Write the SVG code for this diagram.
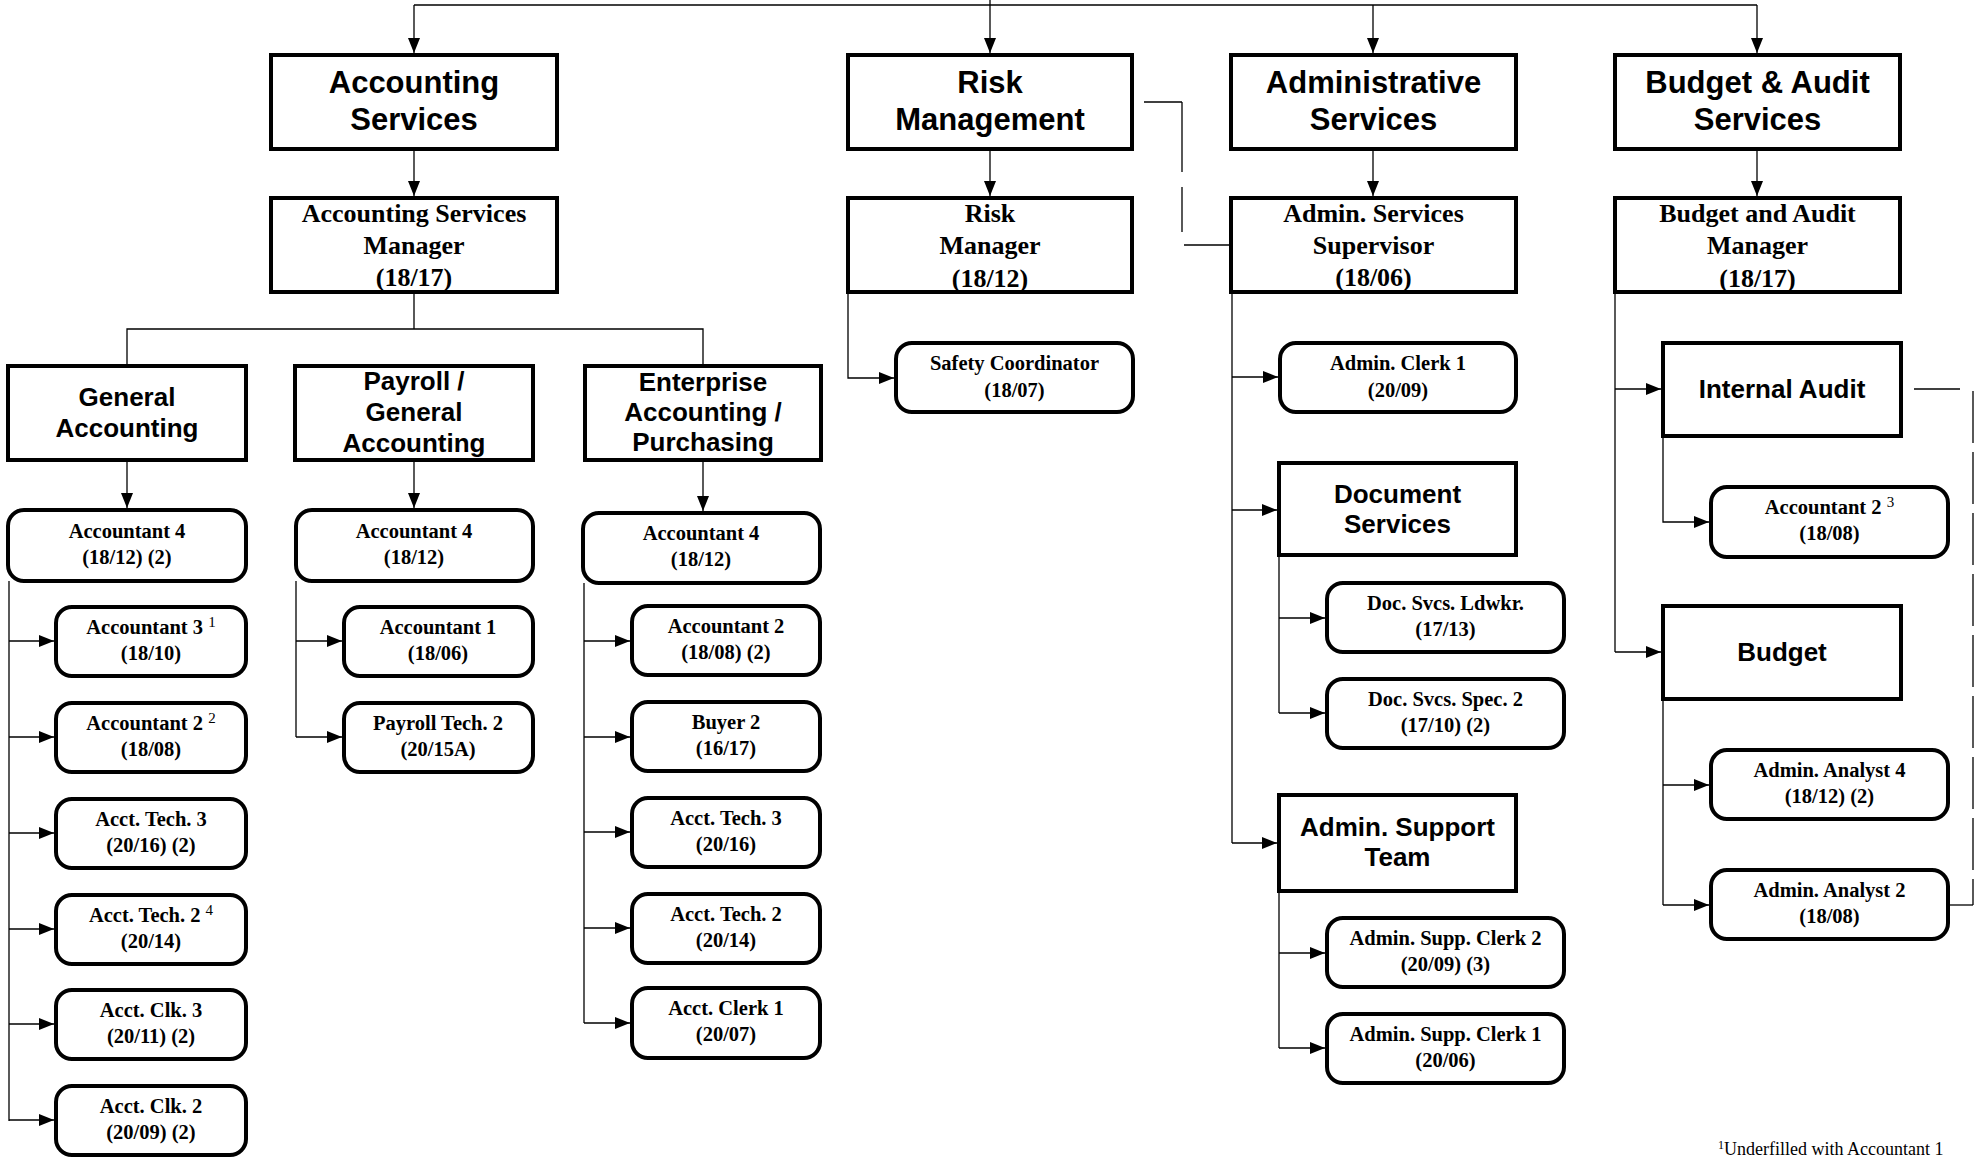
<svg xmlns="http://www.w3.org/2000/svg" width="1979" height="1160" viewBox="0 0 1979 1160">
<style>
.box{fill:#fff;stroke:#000;stroke-width:4}
.conn{fill:none;stroke:#000;stroke-width:1.3}
.arr{marker-end:url(#ah)}
.h1{font-family:"Liberation Sans",Arial,sans-serif;font-weight:bold;font-size:31px;text-anchor:middle;fill:#000}
.h2{font-family:"Liberation Sans",Arial,sans-serif;font-weight:bold;font-size:26px;text-anchor:middle;fill:#000}
.mgr{font-family:"Liberation Serif","Times New Roman",serif;font-weight:bold;font-size:26px;text-anchor:middle;fill:#000}
.pos{font-family:"Liberation Serif","Times New Roman",serif;font-weight:bold;font-size:20.5px;text-anchor:middle;fill:#000}
.sup{font-weight:normal;font-size:15px}
.note{font-family:"Liberation Serif","Times New Roman",serif;font-size:18px;fill:#000}
</style>
<defs>
<marker id="ah" markerWidth="15" markerHeight="12" refX="15" refY="6" orient="auto" markerUnits="userSpaceOnUse"><path d="M0,0 L15,6 L0,12 z" fill="#000"/></marker>
</defs>
<rect width="1979" height="1160" fill="#fff"/>

<g id="connectors">
<path class="conn" d="M414,5 H1757"/>
<path class="conn arr" d="M414,5 V53"/>
<path class="conn arr" d="M990,0 V53"/>
<path class="conn arr" d="M1373,5 V53"/>
<path class="conn arr" d="M1757,5 V53"/>
<path class="conn arr" d="M414,149 V196"/>
<path class="conn arr" d="M990,149 V196"/>
<path class="conn arr" d="M1373,149 V196"/>
<path class="conn arr" d="M1757,149 V196"/>
<path class="conn" d="M414,292 V329 M127,364 V329 H703 V364"/>
<path class="conn arr" d="M127,460 V508"/>
<path class="conn arr" d="M414,460 V508"/>
<path class="conn arr" d="M703,460 V511"/>
<path class="conn" d="M9,581 V1121"/>
<path class="conn arr" d="M9,641 H54"/>
<path class="conn arr" d="M9,737 H54"/>
<path class="conn arr" d="M9,833 H54"/>
<path class="conn arr" d="M9,929 H54"/>
<path class="conn arr" d="M9,1024 H54"/>
<path class="conn arr" d="M9,1120 H54"/>
<path class="conn" d="M296,581 V737"/>
<path class="conn arr" d="M296,641 H342"/>
<path class="conn arr" d="M296,737 H342"/>
<path class="conn" d="M584,583 V1023"/>
<path class="conn arr" d="M584,641 H630"/>
<path class="conn arr" d="M584,737 H630"/>
<path class="conn arr" d="M584,832 H630"/>
<path class="conn arr" d="M584,928 H630"/>
<path class="conn arr" d="M584,1023 H630"/>
<path class="conn arr" d="M848,292 V378 H894"/>
<path class="conn" d="M1232,292 V843"/>
<path class="conn arr" d="M1232,377 H1278"/>
<path class="conn arr" d="M1232,510 H1277"/>
<path class="conn arr" d="M1232,843 H1277"/>
<path class="conn" d="M1279,555 V713"/>
<path class="conn arr" d="M1279,618 H1325"/>
<path class="conn arr" d="M1279,713 H1325"/>
<path class="conn" d="M1279,891 V1048"/>
<path class="conn arr" d="M1279,953 H1325"/>
<path class="conn arr" d="M1279,1048 H1325"/>
<path class="conn" d="M1615,292 V652"/>
<path class="conn arr" d="M1615,389 H1661"/>
<path class="conn arr" d="M1615,652 H1661"/>
<path class="conn arr" d="M1663,436 V522 H1709"/>
<path class="conn" d="M1663,699 V905"/>
<path class="conn arr" d="M1663,785 H1709"/>
<path class="conn arr" d="M1663,905 H1709"/>
<path class="conn" d="M1144,102 H1182"/>
<path class="conn" d="M1182,102 V232" stroke-dasharray="70,15"/>
<path class="conn" d="M1184,245 H1229"/>
<path class="conn" d="M1914,389 H1960"/>
<path class="conn" d="M1973,391 V905" stroke-dasharray="52,9"/>
<path class="conn" d="M1950,905 H1973"/>
</g>

<g id="accounting-services"><rect class="box" x="271" y="55" width="286" height="94"/><text class="h1" x="414" y="93">Accounting</text><text class="h1" x="414" y="130">Services</text></g>
<g id="risk-management"><rect class="box" x="848" y="55" width="284" height="94"/><text class="h1" x="990" y="93">Risk</text><text class="h1" x="990" y="130">Management</text></g>
<g id="administrative-services"><rect class="box" x="1231" y="55" width="285" height="94"/><text class="h1" x="1373.5" y="93">Administrative</text><text class="h1" x="1373.5" y="130">Services</text></g>
<g id="budget-audit-services"><rect class="box" x="1615" y="55" width="285" height="94"/><text class="h1" x="1757.5" y="93">Budget &amp; Audit</text><text class="h1" x="1757.5" y="130">Services</text></g>

<g id="accounting-services-manager"><rect class="box" x="271" y="198" width="286" height="94"/><text class="mgr" x="414" y="222">Accounting Services</text><text class="mgr" x="414" y="254">Manager</text><text class="mgr" x="414" y="286">(18/17)</text></g>
<g id="risk-manager"><rect class="box" x="848" y="198" width="284" height="94"/><text class="mgr" x="990" y="222">Risk</text><text class="mgr" x="990" y="254">Manager</text><text class="mgr" x="990" y="287">(18/12)</text></g>
<g id="admin-services-supervisor"><rect class="box" x="1231" y="198" width="285" height="94"/><text class="mgr" x="1373.5" y="222">Admin. Services</text><text class="mgr" x="1373.5" y="254">Supervisor</text><text class="mgr" x="1373.5" y="286">(18/06)</text></g>
<g id="budget-audit-manager"><rect class="box" x="1615" y="198" width="285" height="94"/><text class="mgr" x="1757.5" y="222">Budget and Audit</text><text class="mgr" x="1757.5" y="254">Manager</text><text class="mgr" x="1757.5" y="287">(18/17)</text></g>

<g id="general-accounting"><rect class="box" x="8" y="366" width="238" height="94"/><text class="h2" x="127" y="406">General</text><text class="h2" x="127" y="437">Accounting</text></g>
<g id="payroll-general-accounting"><rect class="box" x="295" y="366" width="238" height="94"/><text class="h2" x="414" y="390">Payroll /</text><text class="h2" x="414" y="421">General</text><text class="h2" x="414" y="452">Accounting</text></g>
<g id="enterprise-accounting-purchasing"><rect class="box" x="585" y="366" width="236" height="94"/><text class="h2" x="703" y="391">Enterprise</text><text class="h2" x="703" y="421">Accounting /</text><text class="h2" x="703" y="451">Purchasing</text></g>

<g id="ga-accountant-4"><rect class="box" x="8" y="510" width="238" height="71" rx="16"/><text class="pos" x="127" y="538">Accountant 4</text><text class="pos" x="127" y="564">(18/12) (2)</text></g>
<g id="ga-accountant-3"><rect class="box" x="56" y="607" width="190" height="69" rx="16"/><text class="pos" x="151" y="634">Accountant 3 <tspan class="sup" dy="-7">1</tspan></text><text class="pos" x="151" y="660">(18/10)</text></g>
<g id="ga-accountant-2"><rect class="box" x="56" y="703" width="190" height="69" rx="16"/><text class="pos" x="151" y="730">Accountant 2 <tspan class="sup" dy="-7">2</tspan></text><text class="pos" x="151" y="756">(18/08)</text></g>
<g id="ga-acct-tech-3"><rect class="box" x="56" y="799" width="190" height="69" rx="16"/><text class="pos" x="151" y="826">Acct. Tech. 3</text><text class="pos" x="151" y="852">(20/16) (2)</text></g>
<g id="ga-acct-tech-2"><rect class="box" x="56" y="895" width="190" height="69" rx="16"/><text class="pos" x="151" y="922">Acct. Tech. 2 <tspan class="sup" dy="-7">4</tspan></text><text class="pos" x="151" y="948">(20/14)</text></g>
<g id="ga-acct-clk-3"><rect class="box" x="56" y="990" width="190" height="69" rx="16"/><text class="pos" x="151" y="1017">Acct. Clk. 3</text><text class="pos" x="151" y="1043">(20/11) (2)</text></g>
<g id="ga-acct-clk-2"><rect class="box" x="56" y="1086" width="190" height="69" rx="16"/><text class="pos" x="151" y="1113">Acct. Clk. 2</text><text class="pos" x="151" y="1139">(20/09) (2)</text></g>

<g id="pay-accountant-4"><rect class="box" x="296" y="510" width="237" height="71" rx="16"/><text class="pos" x="414" y="538">Accountant 4</text><text class="pos" x="414" y="564">(18/12)</text></g>
<g id="pay-accountant-1"><rect class="box" x="344" y="607" width="189" height="69" rx="16"/><text class="pos" x="438" y="634">Accountant 1</text><text class="pos" x="438" y="660">(18/06)</text></g>
<g id="pay-payroll-tech-2"><rect class="box" x="344" y="703" width="189" height="69" rx="16"/><text class="pos" x="438" y="730">Payroll Tech. 2</text><text class="pos" x="438" y="756">(20/15A)</text></g>

<g id="ent-accountant-4"><rect class="box" x="583" y="513" width="237" height="70" rx="16"/><text class="pos" x="701" y="540">Accountant 4</text><text class="pos" x="701" y="566">(18/12)</text></g>
<g id="ent-accountant-2"><rect class="box" x="632" y="606" width="188" height="69" rx="16"/><text class="pos" x="726" y="633">Accountant 2</text><text class="pos" x="726" y="659">(18/08) (2)</text></g>
<g id="ent-buyer-2"><rect class="box" x="632" y="702" width="188" height="69" rx="16"/><text class="pos" x="726" y="729">Buyer 2</text><text class="pos" x="726" y="755">(16/17)</text></g>
<g id="ent-acct-tech-3"><rect class="box" x="632" y="798" width="188" height="69" rx="16"/><text class="pos" x="726" y="825">Acct. Tech. 3</text><text class="pos" x="726" y="851">(20/16)</text></g>
<g id="ent-acct-tech-2"><rect class="box" x="632" y="894" width="188" height="69" rx="16"/><text class="pos" x="726" y="921">Acct. Tech. 2</text><text class="pos" x="726" y="947">(20/14)</text></g>
<g id="ent-acct-clerk-1"><rect class="box" x="632" y="988" width="188" height="70" rx="16"/><text class="pos" x="726" y="1015">Acct. Clerk 1</text><text class="pos" x="726" y="1041">(20/07)</text></g>

<g id="safety-coordinator"><rect class="box" x="896" y="343" width="237" height="69" rx="16"/><text class="pos" x="1014.5" y="370">Safety Coordinator</text><text class="pos" x="1014.5" y="397">(18/07)</text></g>

<g id="admin-clerk-1"><rect class="box" x="1280" y="343" width="236" height="69" rx="16"/><text class="pos" x="1398" y="370">Admin. Clerk 1</text><text class="pos" x="1398" y="397">(20/09)</text></g>
<g id="document-services"><rect class="box" x="1279" y="463" width="237" height="92"/><text class="h2" x="1397.5" y="503">Document</text><text class="h2" x="1397.5" y="533">Services</text></g>
<g id="doc-svcs-ldwkr"><rect class="box" x="1327" y="583" width="237" height="69" rx="16"/><text class="pos" x="1445.5" y="610">Doc. Svcs. Ldwkr.</text><text class="pos" x="1445.5" y="636">(17/13)</text></g>
<g id="doc-svcs-spec-2"><rect class="box" x="1327" y="679" width="237" height="69" rx="16"/><text class="pos" x="1445.5" y="706">Doc. Svcs. Spec. 2</text><text class="pos" x="1445.5" y="732">(17/10) (2)</text></g>
<g id="admin-support-team"><rect class="box" x="1279" y="795" width="237" height="96"/><text class="h2" x="1397.5" y="836">Admin. Support</text><text class="h2" x="1397.5" y="866">Team</text></g>
<g id="admin-supp-clerk-2"><rect class="box" x="1327" y="918" width="237" height="69" rx="16"/><text class="pos" x="1445.5" y="945">Admin. Supp. Clerk 2</text><text class="pos" x="1445.5" y="971">(20/09) (3)</text></g>
<g id="admin-supp-clerk-1"><rect class="box" x="1327" y="1014" width="237" height="69" rx="16"/><text class="pos" x="1445.5" y="1041">Admin. Supp. Clerk 1</text><text class="pos" x="1445.5" y="1067">(20/06)</text></g>

<g id="internal-audit"><rect class="box" x="1663" y="343" width="238" height="93"/><text class="h2" x="1782" y="398">Internal Audit</text></g>
<g id="ia-accountant-2"><rect class="box" x="1711" y="487" width="237" height="70" rx="16"/><text class="pos" x="1829.5" y="514">Accountant 2 <tspan class="sup" dy="-7">3</tspan></text><text class="pos" x="1829.5" y="540">(18/08)</text></g>
<g id="budget"><rect class="box" x="1663" y="606" width="238" height="93"/><text class="h2" x="1782" y="661">Budget</text></g>
<g id="admin-analyst-4"><rect class="box" x="1711" y="750" width="237" height="69" rx="16"/><text class="pos" x="1829.5" y="777">Admin. Analyst 4</text><text class="pos" x="1829.5" y="803">(18/12) (2)</text></g>
<g id="admin-analyst-2"><rect class="box" x="1711" y="870" width="237" height="69" rx="16"/><text class="pos" x="1829.5" y="897">Admin. Analyst 2</text><text class="pos" x="1829.5" y="923">(18/08)</text></g>

<text class="note" x="1718" y="1155"><tspan font-size="12" dy="-6">1</tspan><tspan dy="6">Underfilled with Accountant 1</tspan></text>
</svg>
